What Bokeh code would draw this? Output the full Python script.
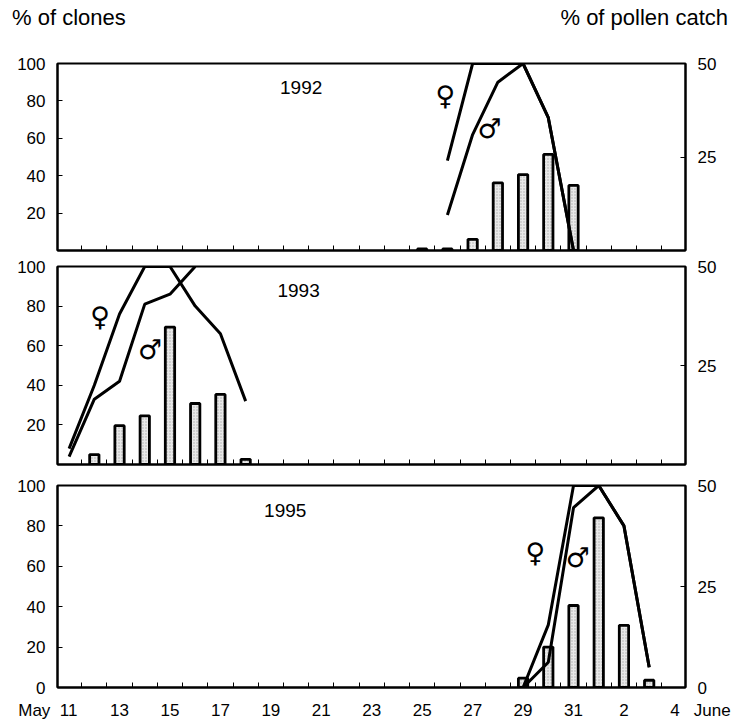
from bokeh.plotting import figure
from bokeh.models import FixedTicker, LinearAxis, Range1d, Label, Div
from bokeh.layouts import column
from bokeh.embed import file_html
from bokeh.resources import INLINE

# ---------------- data ----------------
# x = day counted from May 1 (May 31 = 31, June 1 = 32 ... June 4 = 35)
NB = "\u00a0"
x_tick_days = [11, 13, 15, 17, 19, 21, 23, 25, 27, 29, 31, 33, 35]
x_tick_labels = ["11", "13", "15", "17", "19", "21", "23", "25", "27", "29", "31", "2", "4"]
month_first = "May"
month_last = "June"
x_minor_ticks = [11.5, 12.5, 13.5, 14.5, 15.5, 16.5, 17.5, 18.5, 19.5, 20.5, 21.5, 22.5,
                 23.5, 24.5, 25.5, 26.5, 27.5, 28.5, 29.5, 30.5, 31.5, 32.5, 33.5, 34.5]
clone_ticks = [20, 40, 60, 80, 100]
clone_ticks_last = [0, 20, 40, 60, 80, 100]
pollen_ticks = [25, 50]
pollen_ticks_last = [0, 25, 50]

years = ["1992", "1993", "1995"]
left_title = "% of clones"
right_title = "% of pollen catch"

bar_days_1992 = [25, 26, 27, 28, 29, 30, 31]
pollen_1992 = [0.4, 0.4, 3.0, 18.1, 20.3, 25.7, 17.4]
female_days_1992 = [26, 27, 28, 29, 30, 31]
female_1992 = [48, 100, 100, 100, 71, 0]
male_days_1992 = [26, 27, 28, 29, 30, 31]
male_1992 = [19, 62, 90, 100, 71, 0]

bar_days_1993 = [12, 13, 14, 15, 16, 17, 18]
pollen_1993 = [2.5, 9.8, 12.3, 34.7, 15.4, 17.7, 1.3]
female_days_1993 = [11, 12, 13, 14, 15, 16, 17, 18]
female_1993 = [8, 40, 76, 100, 100, 80, 66, 32]
male_days_1993 = [11, 12, 13, 14, 15, 16]
male_1993 = [4, 33, 42, 81, 86, 100]

bar_days_1995 = [29, 30, 31, 32, 33, 34]
pollen_1995 = [2.3, 10.0, 20.3, 42.0, 15.4, 1.8]
female_days_1995 = [29, 30, 31, 32, 33, 34]
female_1995 = [0, 31, 100, 100, 80, 10]
male_days_1995 = [29, 30, 31, 32, 33, 34]
male_1995 = [0, 12.5, 89, 100, 80, 10]

FONT = "Liberation Sans"
X_START, X_END = 10.54, 35.44
FIG_W = 732
BORDER_L = 57
FRAME_W = 628
HEADER_H = 40


def make_panel(year, bar_days, pollen, fdays, fvals, mdays, mvals,
               year_pos, fem_pos, mal_pos, frame_h, b_top, b_bottom, last):
    p = figure(width=FIG_W, height=frame_h + b_top + b_bottom,
               frame_width=FRAME_W, frame_height=frame_h,
               x_range=Range1d(X_START, X_END), y_range=Range1d(0, 100),
               output_backend="svg", toolbar_location=None,
               min_border_left=BORDER_L, min_border_right=FIG_W - BORDER_L - FRAME_W,
               min_border_top=b_top, min_border_bottom=b_bottom)
    p.extra_y_ranges = {"pollen": Range1d(0, 50)}
    p.grid.visible = False
    p.outline_line_color = "black"
    p.outline_line_width = 2
    p.background_fill_color = "white"
    p.border_fill_color = "white"

    # x axis: ticks between days, labels on odd days (bottom panel only)
    xa = p.xaxis[0]
    xa.ticker = FixedTicker(ticks=x_tick_days if last else [], minor_ticks=x_minor_ticks)
    xa.major_tick_in = 0
    xa.major_tick_out = 0
    xa.minor_tick_in = 5
    xa.minor_tick_out = 0
    xa.minor_tick_line_color = "black"
    xa.minor_tick_line_width = 1
    xa.axis_line_color = "black"
    xa.axis_line_width = 2
    if last:
        labels = list(x_tick_labels)
        labels[0] = month_first + NB * 2 + labels[0] + NB * 9
        labels[-1] = NB * 11 + labels[-1] + NB * 3 + month_last
        xa.major_label_overrides = {d: l for d, l in zip(x_tick_days, labels)}
        xa.major_label_text_font = FONT
        xa.major_label_text_font_size = "17px"
        xa.major_label_text_color = "black"
        xa.major_label_standoff = 13
    else:
        xa.major_label_standoff = 0

    # left axis: % of clones
    ya = p.yaxis[0]
    ya.ticker = FixedTicker(ticks=clone_ticks_last if last else clone_ticks)
    ya.major_tick_in = 5
    ya.major_tick_out = 0
    ya.minor_tick_in = 0
    ya.minor_tick_out = 0
    ya.axis_line_color = "black"
    ya.axis_line_width = 2
    ya.major_tick_line_color = "black"
    ya.major_label_text_font = FONT
    ya.major_label_text_font_size = "17px"
    ya.major_label_text_color = "black"
    ya.major_label_standoff = 12

    # right axis: % of pollen catch
    ra = LinearAxis(y_range_name="pollen",
                    ticker=FixedTicker(ticks=pollen_ticks_last if last else pollen_ticks))
    ra.major_tick_in = 5
    ra.major_tick_out = 0
    ra.minor_tick_in = 0
    ra.minor_tick_out = 0
    ra.axis_line_color = "black"
    ra.axis_line_width = 2
    ra.major_tick_line_color = "black"
    ra.major_label_text_font = FONT
    ra.major_label_text_font_size = "17px"
    ra.major_label_text_color = "black"
    ra.major_label_standoff = 12
    p.add_layout(ra, "right")

    # bars: pollen catch (right axis)
    p.vbar(x=bar_days, top=pollen, bottom=0, width=0.37, y_range_name="pollen",
           fill_color="#e8e8e8", line_color="black", line_width=2.8,
           hatch_pattern="dot", hatch_color="#ababab", hatch_scale=3, hatch_weight=1)

    # lines: % of clones flowering (female, male)
    p.line(fdays, fvals, line_color="black", line_width=3)
    p.line(mdays, mvals, line_color="black", line_width=3)

    p.add_layout(Label(x=year_pos[0], y=year_pos[1], text=year, text_font=FONT,
                       text_font_size="19px", text_color="black",
                       text_align="center", text_baseline="middle"))
    p.add_layout(Label(x=fem_pos[0], y=fem_pos[1], text="\u2640", text_font="DejaVu Sans",
                       text_font_size="27px", text_color="black",
                       text_align="center", text_baseline="middle"))
    p.add_layout(Label(x=mal_pos[0], y=mal_pos[1], text="\u2642", text_font="DejaVu Sans",
                       text_font_size="27px", text_color="black",
                       text_align="center", text_baseline="middle"))
    return p


# header row with the two axis titles
header = Div(
    text=('<div style="display:flex;justify-content:space-between;'
          'font-family:\'Liberation Sans\';font-size:22px;color:black;'
          'line-height:24px;padding:6px 4px 0 12px;width:%dpx;box-sizing:border-box;">'
          '<span>%s</span><span>%s</span></div>') % (FIG_W, left_title, right_title),
    width=FIG_W, height=HEADER_H, margin=0)

p1 = make_panel(years[0], bar_days_1992, pollen_1992, female_days_1992, female_1992,
                male_days_1992, male_1992, (20.2, 87), (25.92, 83), (27.67, 65),
                187, 63 - HEADER_H, 8, False)
p2 = make_panel(years[1], bar_days_1993, pollen_1993, female_days_1993, female_1993,
                male_days_1993, male_1993, (20.1, 88), (12.23, 75), (14.21, 58),
                198, 8, 10, False)
p3 = make_panel(years[2], bar_days_1995, pollen_1995, female_days_1995, female_1995,
                male_days_1995, male_1995, (19.57, 87.5), (29.49, 67), (31.17, 64.5),
                202, 11, 36, True)

layout = column(header, p1, p2, p3, spacing=0)
open("out.html", "w").write(file_html(layout, INLINE))
